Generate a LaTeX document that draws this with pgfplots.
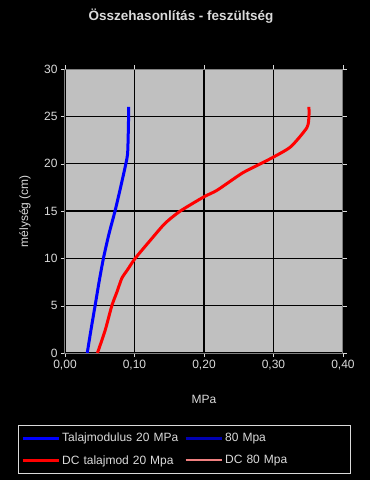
\documentclass[border=0pt]{standalone}
\usepackage{pgfplots}
\pgfplotsset{compat=1.18}
\usepackage{fontspec}
\setmainfont{Liberation Sans}
\definecolor{plotbg}{HTML}{C0C0C0}
\definecolor{txt}{HTML}{DADADA}
\definecolor{pinkline}{HTML}{F08080}
\begin{document}
\begin{tikzpicture}
\fill[black] (-65pt,-127pt) rectangle (305pt,353pt);
\begin{axis}[
  scale only axis, width=278pt, height=284pt,
  xmin=0, xmax=0.4, ymin=0, ymax=30,
  xtick={0,0.1,0.2,0.3,0.4}, ytick={0,5,...,30},
  axis background/.style={fill=plotbg},
  axis line style={gray, line width=1pt},
  grid=major, major grid style={black, line width=1.2pt},
  tick align=outside, major tick length=4pt,
  tick style={txt},
  font=\fontsize{12}{14}\selectfont,
  /pgf/number format/assume math mode=true,
  xticklabel style={txt,font=\fontsize{12}{14}\selectfont,/pgf/number format/.cd,fixed,fixed zerofill,precision=2,use comma},
  yticklabel style={txt,font=\fontsize{12}{14}\selectfont},
  title={Összehasonlítás - feszültség},
  title style={txt, font=\fontsize{13.5}{16}\selectfont\bfseries, at={(axis description cs:0.5,1)}, anchor=center, yshift=47pt, xshift=-23pt},
  xlabel={MPa},
  xlabel style={txt, font=\fontsize{12}{14}\selectfont, at={(axis description cs:0.5,0)}, anchor=center, yshift=-46pt},
  ylabel={mélység (cm)},
  ylabel style={txt, font=\fontsize{12}{14}\selectfont, at={(axis description cs:0,0.5)}, anchor=center, yshift=40pt},
  legend columns=2,
  legend style={at={(axis description cs:0,0)}, anchor=north west, xshift=-47pt, yshift=-72pt,
    fill=black, draw=txt, text=txt, font=\fontsize{12}{14}\selectfont,
    nodes={text width=120pt, inner sep=2pt}, row sep=8pt, inner ysep=6pt},
  legend image code/.code={\draw[#1] (0pt,0pt) -- (36pt,0pt);},
]
\addplot[blue, line width=3pt, smooth, tension=0.4] coordinates {
(0.032,0) (0.0375,2.5) (0.0433,5) (0.049,7.5) (0.0553,10) (0.063,12.5) (0.072,15) (0.08,17.5) (0.0876,20) (0.0900,21) (0.0908,22.5) (0.0915,25) (0.0915,26)};
\addlegendentry{Talajmodulus 20 MPa}
\addlegendimage{blue!70!black, line width=3pt}
\addlegendentry{80 Mpa}
\addplot[red, line width=3pt, smooth, tension=0.4] coordinates {
(0.0467,0) (0.0578,2.4) (0.0674,5) (0.075,6.5) (0.0818,7.9) (0.09,8.8) (0.101,10) (0.1227,11.9) (0.144,13.7) (0.166,15) (0.2,16.5) (0.219,17.2) (0.255,19) (0.2816,20) (0.300,20.7) (0.325,21.8) (0.348,23.8) (0.351,25) (0.351,26)};
\addlegendentry{DC talajmod 20 Mpa}
\addlegendimage{pinkline, line width=2pt}
\addlegendentry{DC 80 Mpa}
\end{axis}
\pgfresetboundingbox
\path[use as bounding box] (-65pt,-127pt) rectangle (305pt,353pt);
\end{tikzpicture}
\end{document}
